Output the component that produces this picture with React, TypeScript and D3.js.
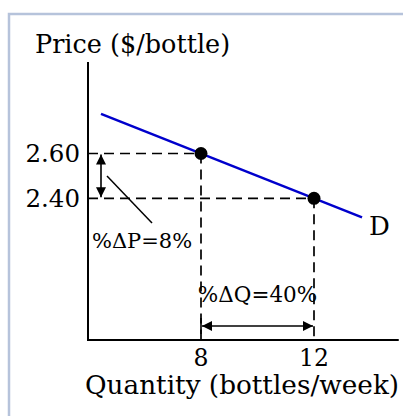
import React from "react";
import * as d3 from "d3";

// Two observed points on the demand curve
const quantities = [8, 12];
const prices = [2.6, 2.4];
const priceTickLabels = ["2.60", "2.40"];
const quantityTickLabels = ["8", "12"];

// Demand curve end points (quantity, price)
const demandQ = [4.46, 13.7];
const demandP = [2.777, 2.315];

const pctChangeP = 8;
const pctChangeQ = 40;

const W = 403;
const H = 416;
const FONT = "'DejaVu Serif', serif";

export default function App() {
  const x = d3.scaleLinear().domain([4, 15]).range([88, 398.75]);
  const y = d3.scaleLinear().domain([1.7674, 3.0085]).range([340, 62]);

  const x0 = x(4);
  const y0 = y(1.7674);
  const xMax = x(15);
  const yTop = y(3.0085);

  const line = d3
    .line<number>()
    .x((_, i) => x(demandQ[i]))
    .y((d) => y(d));

  const pts = quantities.map((q, i) => ({ q, p: prices[i] }));
  const dash = "10,6";

  return (
    <svg
      width={W}
      height={H}
      style={{ position: "absolute", left: 0, top: 0, background: "#fff" }}
      fontFamily={FONT}
    >
      <defs>
        <marker
          id="ah"
          viewBox="0 0 10 10"
          refX="10"
          refY="5"
          markerWidth="11"
          markerHeight="10"
          markerUnits="userSpaceOnUse"
          orient="auto-start-reverse"
        >
          <path d="M0,0 L10,5 L0,10 z" fill="#000" />
        </marker>
      </defs>

      {/* frame */}
      <rect x={9} y={14} width={440} height={440} fill="none" stroke="#b6c3db" strokeWidth={2.5} />

      {/* dashed guides */}
      {pts.map((d, i) => (
        <g key={i} stroke="#000" strokeWidth={1.7} strokeDasharray={dash} fill="none">
          <line x1={x0} y1={y(d.p)} x2={x(d.q)} y2={y(d.p)} />
          <line x1={x(d.q)} y1={y(d.p)} x2={x(d.q)} y2={y0} />
        </g>
      ))}

      {/* axes */}
      <line x1={x0} y1={yTop} x2={x0} y2={y0 + 1} stroke="#000" strokeWidth={2} />
      <line x1={x0} y1={y0} x2={xMax} y2={y0} stroke="#000" strokeWidth={2} />

      {/* demand curve */}
      <path d={line(demandP) ?? ""} fill="none" stroke="#0000cc" strokeWidth={2.5} />
      <text x={x(demandQ[1]) + 7} y={y(demandP[1]) + 18} fontSize={26}>
        D
      </text>

      {/* points */}
      {pts.map((d, i) => (
        <circle key={i} cx={x(d.q)} cy={y(d.p)} r={6.5} fill="#000" />
      ))}

      {/* price tick labels */}
      {prices.map((p, i) => (
        <text key={i} x={x0 - 8} y={y(p) + 8.5} fontSize={24.5} textAnchor="end">
          {priceTickLabels[i]}
        </text>
      ))}

      {/* quantity tick labels */}
      {quantities.map((q, i) => (
        <text key={i} x={x(q)} y={y0 + 25.5} fontSize={23.5} textAnchor="middle">
          {quantityTickLabels[i]}
        </text>
      ))}

      {/* price change arrow */}
      <line
        x1={x0 + 13}
        y1={y(prices[0]) + 1}
        x2={x0 + 13}
        y2={y(prices[1]) - 1}
        stroke="#000"
        strokeWidth={1.6}
        markerStart="url(#ah)"
        markerEnd="url(#ah)"
      />
      <line x1={x0 + 19} y1={y(2.5)} x2={x0 + 64} y2={y(2.29)} stroke="#000" strokeWidth={1.5} />
      <text x={x0 + 4} y={y(2.4) + 50} fontSize={21}>
        {`%ΔP=${pctChangeP}%`}
      </text>

      {/* quantity change arrow */}
      <line
        x1={x(quantities[0]) + 1}
        y1={y0 - 14}
        x2={x(quantities[1]) - 1}
        y2={y0 - 14}
        stroke="#000"
        strokeWidth={1.6}
        markerStart="url(#ah)"
        markerEnd="url(#ah)"
      />
      <line x1={x(quantities[0])} y1={y0 - 22} x2={x(quantities[0])} y2={y0 - 6} stroke="#000" strokeWidth={1.6} />
      <text x={(x(quantities[0]) + x(quantities[1])) / 2} y={y0 - 38} fontSize={21.5} textAnchor="middle">
        {`%ΔQ=${pctChangeQ}%`}
      </text>

      {/* axis titles */}
      <text x={35} y={53} fontSize={25.5}>
        Price ($/bottle)
      </text>
      <text x={85} y={394} fontSize={26.3}>
        Quantity (bottles/week)
      </text>
    </svg>
  );
}
